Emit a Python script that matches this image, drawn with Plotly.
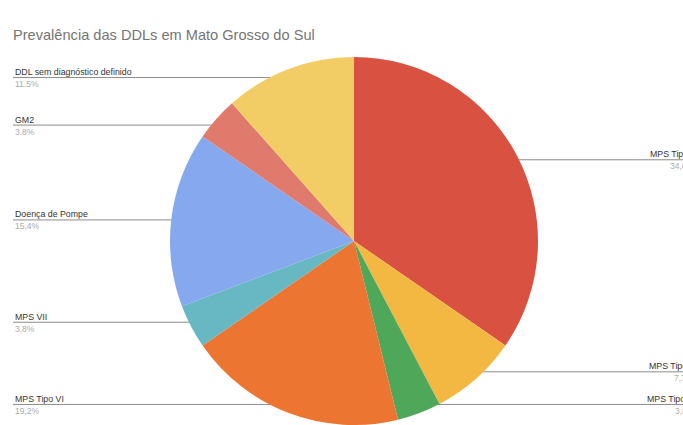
import math
import plotly.graph_objects as go

# ---- data ----
labels = ["MPS Tipo II", "MPS Tipo IV", "MPS Tipo I", "MPS Tipo VI", "MPS VII",
          "Doença de Pompe", "GM2", "DDL sem diagnóstico definido"]
values = [9, 2, 1, 5, 1, 4, 1, 3]
pct_text = ["34,6%", "7,7%", "3,8%", "19,2%", "3,8%", "15,4%", "3.8%", "11.5%"]
colors = ["#D95140", "#F3B842", "#4FA85A", "#EB7531", "#67B8C2",
          "#86A8EF", "#E07A6C", "#F2CD66"]
title_text = "Prevalência das DDLs em Mato Grosso do Sul"

# ---- layout geometry (pixels) ----
W, H = 683, 425
R = 184.0
CX = 354.0
CY = H - R
ANCHOR_FRAC = 0.95
LEFT_X = 13
RIGHT_NAME_X = [648, 647, 645]
RIGHT_PCT_X = [668, 672, 673]

fig = go.Figure()

fig.add_trace(go.Pie(
    labels=labels, values=values, sort=False, direction="clockwise", rotation=0,
    marker=dict(colors=colors, line=dict(width=0)),
    textinfo="none", hoverinfo="label+percent", showlegend=False,
    domain=dict(x=[(CX - R) / W, (CX + R) / W], y=[0, 2 * R / H]),
))

total = sum(values)
cum = 0.0
annotations = []
ri = 0
for i, (lab, v, pt) in enumerate(zip(labels, values, pct_text)):
    mid = (cum + v / 2) / total * 2 * math.pi
    cum += v
    ax = CX + ANCHOR_FRAC * R * math.sin(mid)
    ay = CY - ANCHOR_FRAC * R * math.cos(mid)
    right = ax > CX
    if right:
        xs = [ax, W + 20]
        tx = RIGHT_NAME_X[ri]
        px = RIGHT_PCT_X[ri]
        ri += 1
    else:
        xs = [LEFT_X, ax]
        tx = LEFT_X
        px = LEFT_X
    fig.add_trace(go.Scatter(x=xs, y=[ay, ay], mode="lines",
                             line=dict(color="#8c8c8c", width=1),
                             hoverinfo="skip", showlegend=False))
    fig.add_trace(go.Scatter(x=[ax], y=[ay], mode="markers",
                             marker=dict(color="rgba(255,255,255,0.45)", size=3),
                             hoverinfo="skip", showlegend=False))
    annotations.append(dict(x=tx, y=ay - 5.5, xref="x", yref="y", text=lab,
                            showarrow=False, xanchor="left", yanchor="middle",
                            font=dict(family="Liberation Sans, Arial", size=8.8, color="#333333")))
    annotations.append(dict(x=px, y=ay + 6.5, xref="x", yref="y", text=pt,
                            showarrow=False, xanchor="left", yanchor="middle",
                            font=dict(family="Liberation Sans, Arial", size=8.5, color="#ababab")))

annotations.append(dict(x=11, y=35, xref="x", yref="y", text=title_text,
                        showarrow=False, xanchor="left", yanchor="middle",
                        font=dict(family="Liberation Sans, Arial", size=14.6, color="#757575")))

fig.update_layout(
    width=W, height=H, margin=dict(l=0, r=0, t=0, b=0),
    paper_bgcolor="white", plot_bgcolor="rgba(0,0,0,0)",
    xaxis=dict(range=[0, W], visible=False, fixedrange=True),
    yaxis=dict(range=[H, 0], visible=False, fixedrange=True),
    annotations=annotations,
)

fig.write_html("out.html")
